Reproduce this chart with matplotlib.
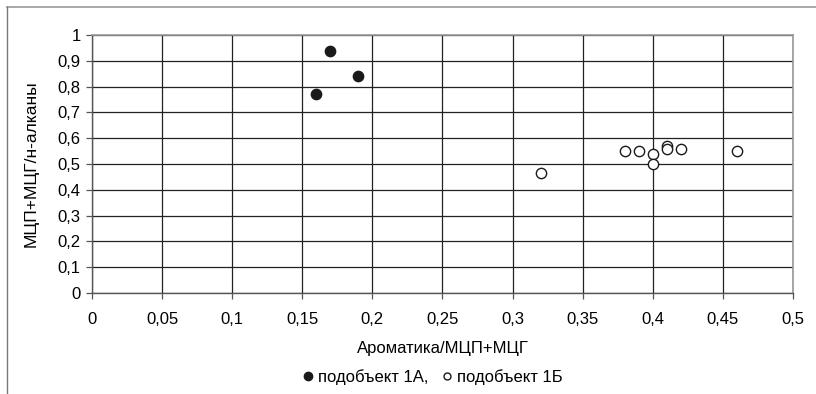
import matplotlib.pyplot as plt
from matplotlib.lines import Line2D

plt.rcParams['font.family'] = ['Liberation Sans', 'DejaVu Sans']

# подобъект 1А
x_1a = [0.16, 0.17, 0.19]
y_1a = [0.77, 0.94, 0.84]

# подобъект 1Б
x_1b = [0.32, 0.38, 0.39, 0.40, 0.40, 0.41, 0.41, 0.42, 0.46]
y_1b = [0.465, 0.55, 0.55, 0.54, 0.50, 0.57, 0.56, 0.56, 0.55]

xticks = [0, 0.05, 0.1, 0.15, 0.2, 0.25, 0.3, 0.35, 0.4, 0.45, 0.5]
xlabels = ['0', '0,05', '0,1', '0,15', '0,2', '0,25', '0,3', '0,35', '0,4', '0,45', '0,5']
yticks = [0, 0.1, 0.2, 0.3, 0.4, 0.5, 0.6, 0.7, 0.8, 0.9, 1]
ylabels = ['0', '0,1', '0,2', '0,3', '0,4', '0,5', '0,6', '0,7', '0,8', '0,9', '1']

fs = 12

fig = plt.figure(figsize=(8.16, 3.94), dpi=100)
ax = fig.add_axes([0.1127, 0.2563, 0.8591, 0.6547])

ax.scatter(x_1a, y_1a, s=55, c='#1a1a1a', edgecolors='#1a1a1a', zorder=3)
ax.scatter(x_1b, y_1b, s=55, facecolors='white', edgecolors='#1a1a1a', linewidths=1.0, zorder=3)

ax.set_xlim(0, 0.5)
ax.set_ylim(0, 1)
ax.set_xticks(xticks)
ax.set_xticklabels(xlabels)
ax.set_yticks(yticks)
ax.set_yticklabels(ylabels)
ax.grid(True, color='#222222', linewidth=0.9)
ax.set_axisbelow(True)
ax.tick_params(direction='out', length=4, width=0.9, color='#555555', labelsize=fs, pad=4)
ax.tick_params(axis='x', pad=10)

for s in ['top', 'right']:
    ax.spines[s].set_color('#999999')
    ax.spines[s].set_linewidth(1.2)
for s in ['left', 'bottom']:
    ax.spines[s].set_color('#555555')
    ax.spines[s].set_linewidth(1.0)

ax.set_xlabel('Ароматика/МЦП+МЦГ', fontsize=fs, labelpad=10)
ax.set_ylabel('МЦП+МЦГ/н-алканы', fontsize=12.5, labelpad=14)

handles = [
    Line2D([], [], marker='o', linestyle='none', markersize=6, markerfacecolor='#1a1a1a',
           markeredgecolor='#1a1a1a', label='подобъект 1А,'),
    Line2D([], [], marker='o', linestyle='none', markersize=5, markerfacecolor='white',
           markeredgecolor='#1a1a1a', label='подобъект 1Б'),
]
fig.legend(handles=handles, loc='center', bbox_to_anchor=(0.527, 0.043), ncol=2, frameon=False,
           fontsize=fs, handletextpad=0.0, columnspacing=0.5, handlelength=1.2)

# outer frame (top and left only)
fig.add_artist(Line2D([0.0086, 1.0], [0.982, 0.982], transform=fig.transFigure, color='#999999', linewidth=1.2))
fig.add_artist(Line2D([0.0086, 0.0086], [0.0, 0.982], transform=fig.transFigure, color='#777777', linewidth=1.0))

fig.savefig('out.png', dpi=100)
